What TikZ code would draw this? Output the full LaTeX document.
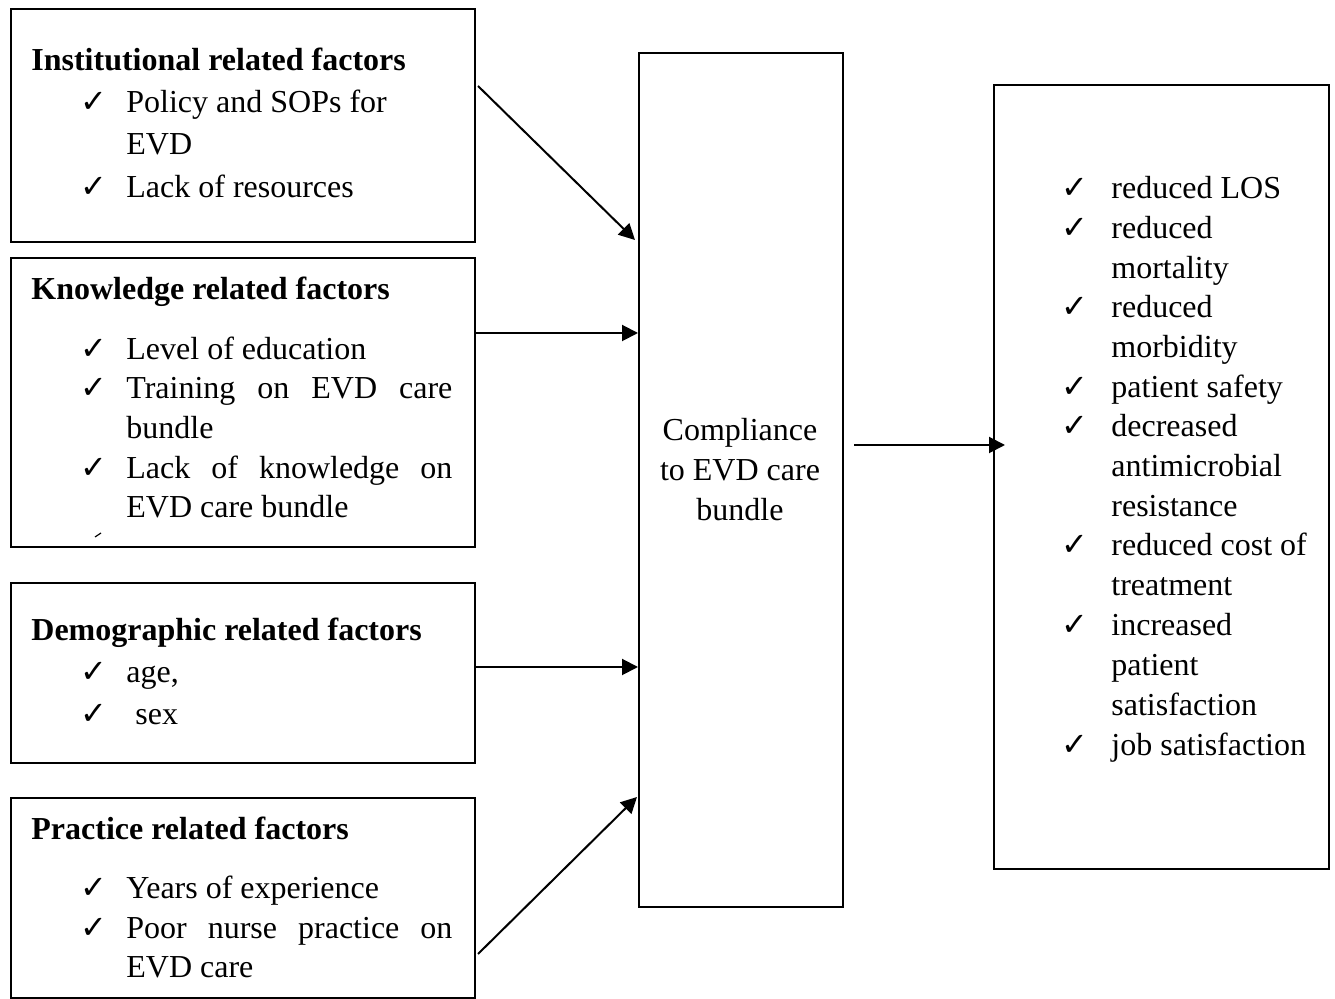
\documentclass[tikz,border=0pt]{standalone}
\usepackage{fontspec}
\setmainfont{Liberation Serif}
\newfontfamily\symfont{DejaVu Sans}
\usetikzlibrary{arrows.meta,calc}
\begin{document}
\begin{tikzpicture}[x=0.5pt,y=-0.5pt,
 box/.style={draw,line width=1pt,inner sep=0pt,anchor=north west},
 arr/.style={line width=1pt,-{Triangle[length=8pt,width=8pt]}},
 txt/.style={anchor=base west,inner sep=0pt,yshift=-1.5pt,font=\fontsize{16}{19}\selectfont},
 ctxt/.style={anchor=base,inner sep=0pt,yshift=-1.5pt,font=\fontsize{16}{19}\selectfont},
 ttl/.style={anchor=base west,inner sep=0pt,yshift=-1.5pt,font=\fontsize{16}{19}\selectfont\bfseries},
 chk/.style={anchor=base west,inner sep=0pt,yshift=-1.5pt,font=\symfont\fontsize{16}{18}\selectfont},
]
\useasboundingbox (0,0) rectangle (1335,999);
% boxes
\node[box,minimum width=232pt,minimum height=116.5pt] (inst) at (10,8) {};
\node[box,minimum width=232pt,minimum height=144.5pt] (know) at (10,257) {};
\node[box,minimum width=232pt,minimum height=90pt] (demo) at (10,582) {};
\node[box,minimum width=232pt,minimum height=100pt] (prac) at (10,797) {};
\node[box,minimum width=102pt,minimum height=427pt] (comp) at (638,52) {};
\node[box,minimum width=167.5pt,minimum height=392pt] (outc) at (993,84) {};
% institutional
\node[ttl] (t1) at (31,68) {Institutional related factors};
\node[chk] (c11) at (80,110) {✓};
\node[txt] (l11) at (126,110) {Policy and SOPs for};
\node[txt] (l12) at (126,152) {EVD};
\node[chk] (c12) at (80,195) {✓};
\node[txt] (l13) at (126,195) {Lack of resources};
% knowledge
\node[ttl] (t2) at (31,297) {Knowledge related factors};
\node[chk] (c21) at (80,357) {✓};
\node[txt] (l21) at (126,357) {Level of education};
\node[chk] (c22) at (80,396) {✓};
\node[txt] (l22) at (126,396) {\makebox[163pt][s]{Training on EVD care}};
\node[txt] (l23) at (126,436) {bundle};
\node[chk] (c23) at (80,476) {✓};
\node[txt] (l24) at (126,476) {\makebox[163pt][s]{Lack of knowledge on}};
\node[txt] (l25) at (126,515) {EVD care bundle};
\draw[line width=0.6pt] (95,537) -- (101,533);
% demographic
\node[ttl] (t3) at (31,638) {Demographic related factors};
\node[chk] (c31) at (80,680) {✓};
\node[txt] (l31) at (126,680) {age,};
\node[chk] (c32) at (80,722) {✓};
\node[txt] (l32) at (135,722) {sex};
% practice
\node[ttl] (t4) at (31,837) {Practice related factors};
\node[chk] (c41) at (80,896) {✓};
\node[txt] (l41) at (126,896) {Years of experience};
\node[chk] (c42) at (80,936) {✓};
\node[txt] (l42) at (126,936) {\makebox[163pt][s]{Poor nurse practice on}};
\node[txt] (l43) at (126,975) {EVD care};
% center
\node[ctxt] (m1) at (740,438) {Compliance};
\node[ctxt] (m2) at (740,478) {to EVD care};
\node[ctxt] (m3) at (740,518) {bundle};
% outcomes
\foreach \y/\t/\c in {196/reduced LOS/1,236/reduced/1,276/mortality/0,315/reduced/1,355/morbidity/0,395/patient safety/1,434/decreased/1,474/antimicrobial/0,514/resistance/0,553/reduced cost of/1,593/treatment/0,633/increased/1,673/patient/0,713/satisfaction/0,753/job satisfaction/1}{
  \node[txt] (o\y) at (1111,\y) {\t};
  \ifnum\c=1 \node[chk] (oc\y) at (1061,\y) {✓};\fi
}
% arrows
\draw[arr] ($(inst.north east)+(2,78)$) -- ($(comp.north west)+(-3,188)$);
\draw[arr] ($(know.north east)+(0,76)$) -- ($(comp.north west)+(0,281)$);
\draw[arr] ($(demo.north east)+(0,85)$) -- ($(comp.north west)+(0,615)$);
\draw[arr] ($(prac.north east)+(2,157)$) -- ($(comp.north west)+(-1,745)$);
\draw[arr] ($(comp.north east)+(10,393)$) -- ($(outc.north west)+(12,361)$);
\end{tikzpicture}
\end{document}
